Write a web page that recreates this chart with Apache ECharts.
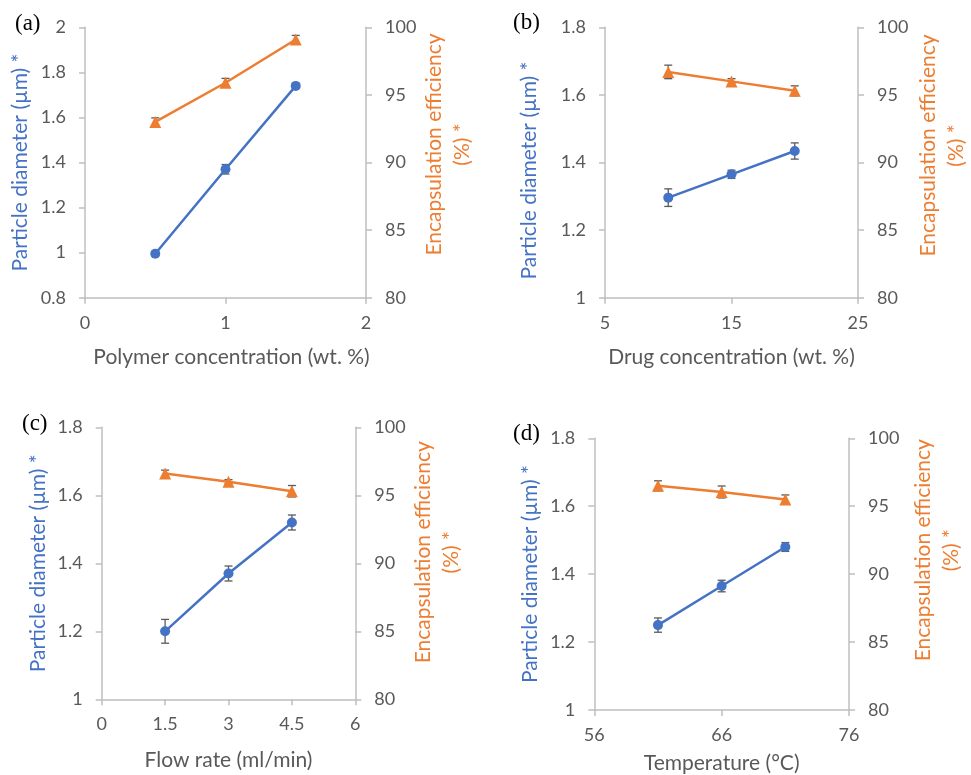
<!DOCTYPE html>
<html><head><meta charset="utf-8">
<script src="https://cdn.jsdelivr.net/npm/echarts@6/dist/echarts.min.js"></script>
<style>html,body{margin:0;padding:0;background:#fff}#c{width:971px;height:775px}</style>
</head><body><div id="c"></div>
<script>
// ---- data ----
const xA = [0.5, 1, 1.5];
const diamA = [0.995, 1.37, 1.74];
const diamErrA = [0.01, 0.021, 0.01];
const effA = [93.0, 95.9, 99.1];
const effErrA = [0.3, 0.32, 0.3];

const xB = [10, 15, 20];
const diamB = [1.296, 1.365, 1.434];
const diamErrB = [0.026, 0.012, 0.024];
const effB = [96.7, 96.0, 95.3];
const effErrB = [0.5, 0.2, 0.37];

const xC = [1.5, 3, 4.5];
const diamC = [1.2, 1.37, 1.52];
const diamErrC = [0.035, 0.022, 0.022];
const effC = [96.6, 96.0, 95.3];
const effErrC = [0.25, 0.15, 0.42];

const xD = [61, 66, 71];
const diamD = [1.25, 1.365, 1.48];
const diamErrD = [0.021, 0.017, 0.013];
const effD = [96.5, 96.05, 95.5];
const effErrD = [0.37, 0.44, 0.33];

const xTicksA = [0, 1, 2];
const xTicksB = [5, 15, 25];
const xTicksC = [0, 1.5, 3, 4.5, 6];
const xTicksD = [56, 66, 76];
const diamTicksA = [0.8, 1, 1.2, 1.4, 1.6, 1.8, 2];
const diamTicksBCD = [1, 1.2, 1.4, 1.6, 1.8];
const effTicks = [80, 85, 90, 95, 100];

const xNames = ['Polymer concentration (wt. %)', 'Drug concentration (wt. %)', 'Flow rate (ml/min)', 'Temperature (°C)'];
const panelLabels = ['(a)', '(b)', '(c)', '(d)'];
const diamName = 'Particle diameter (µm) *';
const effName = 'Encapsulation efficiency\n(%) *';

// ---- layout / style ----
const panels = [
  {x: xA, d: diamA, de: diamErrA, e: effA, ee: effErrA, xt: xTicksA, dt: diamTicksA,
   grid: {left: 85, top: 27.3, width: 281, height: 270.4}, lg: 54, lpad: 0, rg: 53, rpad: 36, xg: 49, xpadL: 12, lab: [15, 25]},
  {x: xB, d: diamB, de: diamErrB, e: effB, ee: effErrB, xt: xTicksB, dt: diamTicksBCD,
   grid: {left: 605, top: 27.3, width: 260, height: 270.4}, lg: 65, lpad: -16, rg: 56, rpad: 34, xg: 49, xpadL: 0, lab: [513, 24]},
  {x: xC, d: diamC, de: diamErrC, e: effC, ee: effErrC, xt: xTicksC, dt: diamTicksBCD,
   grid: {left: 101.7, top: 427.3, width: 253.6, height: 272}, lg: 53, lpad: 0, rg: 53, rpad: 22, xg: 50, xpadL: 0, lab: [22, 425]},
  {x: xD, d: diamD, de: diamErrD, e: effD, ee: effErrD, xt: xTicksD, dt: diamTicksBCD,
   grid: {left: 594.3, top: 438.3, width: 254.7, height: 273.4}, lg: 54, lpad: 0, rg: 60, rpad: 48, xg: 43, xpadL: 0, lab: [513, 435]}
];

const BLUE = '#4472C4', ORANGE = '#ED7D31', AXC = '#BFBFBF', TXT = '#595959';
const FONT = 'Lato';

function errRender(params, api) {
  const x = api.value(0), lo = api.value(1), hi = api.value(2);
  const pLo = api.coord([x, lo]), pHi = api.coord([x, hi]);
  const w = 4;
  const st = {stroke: '#5a5a5a', lineWidth: 1.3};
  return {type: 'group', children: [
    {type: 'line', shape: {x1: pLo[0], y1: pLo[1], x2: pHi[0], y2: pHi[1]}, style: st},
    {type: 'line', shape: {x1: pLo[0] - w, y1: pLo[1], x2: pLo[0] + w, y2: pLo[1]}, style: st},
    {type: 'line', shape: {x1: pHi[0] - w, y1: pHi[1], x2: pHi[0] + w, y2: pHi[1]}, style: st}
  ]};
}

const grids = [], xAxes = [], yAxes = [], series = [], graphics = [];
const axisLine = {show: true, lineStyle: {color: AXC, width: 1.5}};
const axisTick = (vals) => ({show: true, length: 6, lineStyle: {color: AXC, width: 1.5}, customValues: vals});
const axisLabel = (vals, margin) => ({color: TXT, fontSize: 18, fontFamily: FONT, margin: margin, customValues: vals});

panels.forEach((p, i) => {
  grids.push(Object.assign({containLabel: false}, p.grid));
  xAxes.push({
    type: 'value', gridIndex: i, min: p.xt[0], max: p.xt[p.xt.length - 1],
    axisLine: axisLine, axisTick: axisTick(p.xt), axisLabel: axisLabel(p.xt, 16), splitLine: {show: false},
    name: xNames[i], nameLocation: 'middle', nameGap: p.xg,
    nameTextStyle: {color: TXT, fontSize: 21, fontFamily: FONT, padding: [0, 0, 0, p.xpadL]}
  });
  yAxes.push({
    type: 'value', gridIndex: i, position: 'left', min: p.dt[0], max: p.dt[p.dt.length - 1],
    axisLine: axisLine, axisTick: axisTick(p.dt), axisLabel: axisLabel(p.dt, 19), splitLine: {show: false},
    name: diamName, nameLocation: 'middle', nameRotate: 90, nameGap: p.lg,
    nameTextStyle: {color: BLUE, fontSize: 21, fontFamily: FONT, padding: [0, p.lpad < 0 ? -p.lpad : 0, 0, p.lpad > 0 ? p.lpad : 0]}
  });
  yAxes.push({
    type: 'value', gridIndex: i, position: 'right', min: effTicks[0], max: effTicks[effTicks.length - 1],
    axisLine: axisLine, axisTick: axisTick(effTicks), axisLabel: axisLabel(effTicks, 19), splitLine: {show: false},
    name: effName, nameLocation: 'middle', nameRotate: 90, nameGap: p.rg,
    nameTextStyle: {color: ORANGE, fontSize: 21, fontFamily: FONT, lineHeight: 28, align: 'center', padding: [0, 0, 0, p.rpad]}
  });
  series.push({
    type: 'custom', xAxisIndex: i, yAxisIndex: 2 * i, renderItem: errRender, z: 1,
    encode: {x: 0, y: [1, 2]},
    data: p.x.map((x, j) => [x, p.d[j] - p.de[j], p.d[j] + p.de[j]])
  });
  series.push({
    type: 'custom', xAxisIndex: i, yAxisIndex: 2 * i + 1, renderItem: errRender, z: 1,
    encode: {x: 0, y: [1, 2]},
    data: p.x.map((x, j) => [x, p.e[j] - p.ee[j], p.e[j] + p.ee[j]])
  });
  series.push({
    type: 'line', xAxisIndex: i, yAxisIndex: 2 * i, z: 3,
    data: p.x.map((x, j) => [x, p.d[j]]),
    symbol: 'circle', symbolSize: 10, lineStyle: {color: BLUE, width: 2.5}, itemStyle: {color: BLUE}, animation: false
  });
  series.push({
    type: 'line', xAxisIndex: i, yAxisIndex: 2 * i + 1, z: 3,
    data: p.x.map((x, j) => [x, p.e[j]]),
    symbol: 'triangle', symbolSize: 12, lineStyle: {color: ORANGE, width: 2.5}, itemStyle: {color: ORANGE}, animation: false
  });
  graphics.push({
    type: 'text', left: p.lab[0], top: p.lab[1] - 13,
    style: {text: panelLabels[i], fill: '#000', font: '23px "Liberation Serif"'}
  });
});

const chart = echarts.init(document.getElementById('c'), null, {renderer: 'canvas'});
chart.setOption({
  animation: false,
  backgroundColor: '#fff',
  grid: grids, xAxis: xAxes, yAxis: yAxes, series: series, graphic: graphics
});
</script>
</body></html>
